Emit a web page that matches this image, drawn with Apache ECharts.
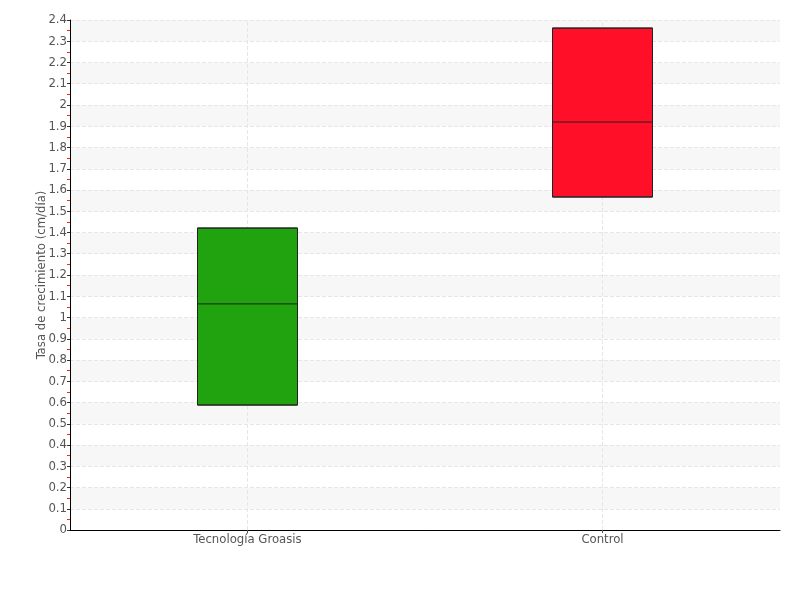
<!DOCTYPE html>
<html>
<head>
<meta charset="utf-8">
<script src="https://cdn.jsdelivr.net/npm/echarts@6/dist/echarts.min.js"></script>
<style>html,body{margin:0;padding:0;background:#fff;}#c{width:800px;height:600px;}</style>
</head>
<body>
<div id="c"></div>
<script>
var categories = ['Tecnología Groasis', 'Control'];
// [min, Q1, median, Q3, max]
var boxValues = [
  [0.588, 0.588, 1.064, 1.421, 1.421],
  [1.567, 1.567, 1.920, 2.362, 2.362]
];
var boxColors = ['#21a30f', '#ff0f28'];
var yName = 'Tasa de crecimiento (cm/día)';

var font = "'DejaVu Sans Condensed', 'Liberation Sans Narrow', sans-serif";
var chart = echarts.init(document.getElementById('c'));
chart.setOption({
  animation: false,
  textStyle: { fontFamily: font },
  grid: { left: 70, right: 20, top: 20, bottom: 70 },
  xAxis: {
    type: 'category',
    data: categories,
    boundaryGap: true,
    axisLine: { lineStyle: { color: '#000', width: 1 } },
    axisTick: { show: true, alignWithLabel: true, length: 3, lineStyle: { color: '#555' } },
    axisLabel: { color: '#555', fontSize: 13, margin: 3, fontFamily: font },
    splitLine: { show: false }
  },
  yAxis: {
    type: 'value',
    min: 0, max: 2.4, interval: 0.1,
    name: yName,
    nameLocation: 'middle',
    nameGap: 22,
    nameMoveOverlap: false,
    nameTextStyle: { color: '#555', fontSize: 13, fontFamily: font },
    axisLine: { show: true, lineStyle: { color: '#000', width: 1 } },
    axisTick: { show: true, length: 3, lineStyle: { color: '#333' } },
    minorTick: { show: true, splitNumber: 2, length: 3, lineStyle: { color: '#ff2020', width: 1 } },
    axisLabel: { color: '#555', fontSize: 13, margin: 3, fontFamily: font },
    splitLine: { show: true, lineStyle: { color: '#e6e6e6', type: 'dashed', width: 1 } },
    splitArea: { show: true, areaStyle: { color: ['#ffffff', '#f7f7f7'] } }
  },
  series: [
    {
      type: 'line',
      data: [],
      silent: true,
      markLine: {
        silent: true,
        symbol: 'none',
        label: { show: false },
        lineStyle: { color: '#e6e6e6', type: 'dashed', width: 1 },
        data: categories.map(function (c) { return { xAxis: c }; })
      }
    },
    {
      type: 'boxplot',
      zlevel: 1,
      boxWidth: [100, 100],
      data: boxValues.map(function (v, i) {
        return { value: v, itemStyle: { color: boxColors[i], borderColor: '#222', borderWidth: 1 } };
      })
    }
  ]
});
</script>
</body>
</html>
